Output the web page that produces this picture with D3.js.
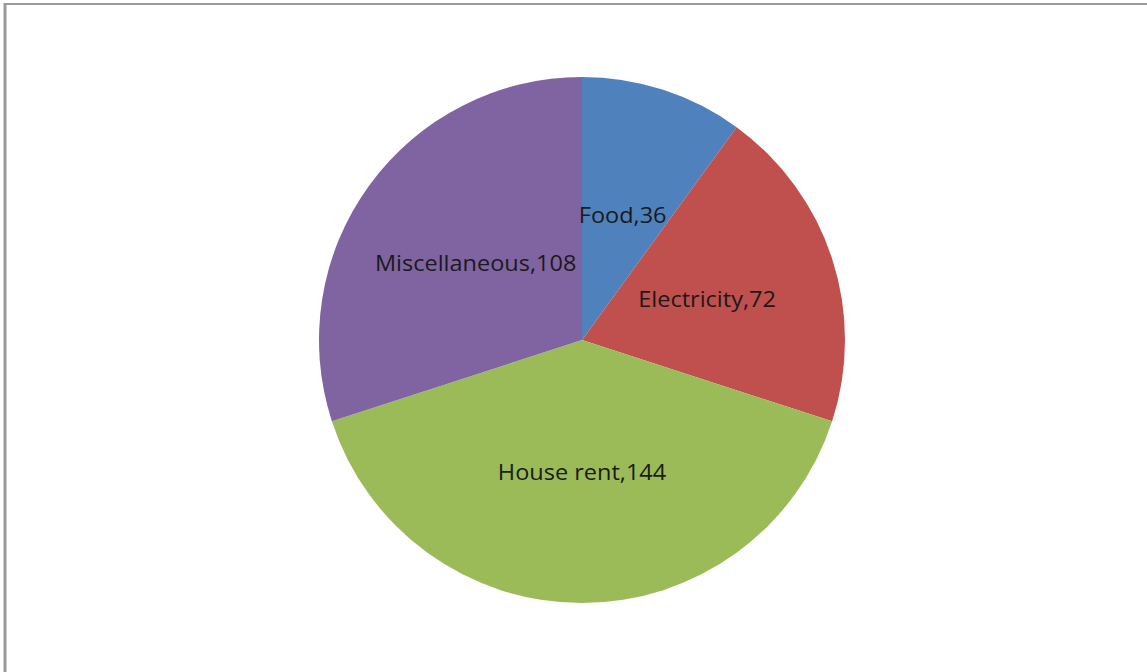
<!DOCTYPE html>
<html>
<head>
<meta charset="utf-8">
<script src="https://cdn.jsdelivr.net/npm/d3@7"></script>
<style>
  html, body { margin: 0; padding: 0; background: #fff; }
  svg { display: block; }
</style>
</head>
<body>
<svg id="chart" width="1147" height="672"></svg>
<script>
// Monthly expense breakdown
const categories = ["Food", "Electricity", "House rent", "Miscellaneous"];
const values = [36, 72, 144, 108];
const colors = ["#4F81BD", "#C0504D", "#9BBB59", "#8064A2"];

const svg = d3.select("#chart");
const W = 1147, H = 672;

// chart area frame (top and left edges visible)
svg.append("line").attr("x1", 4).attr("x2", W).attr("y1", 4).attr("y2", 4)
  .attr("stroke", "#9a9a9a").attr("stroke-width", 2);
svg.append("line").attr("x1", 5).attr("x2", 5).attr("y1", 3).attr("y2", H)
  .attr("stroke", "#9a9a9a").attr("stroke-width", 3);

const cx = 582, cy = 340, r = 263;
const data = categories.map((c, i) => ({ name: c, value: values[i], color: colors[i] }));

const pie = d3.pie().value(d => d.value).sort(null);
const arc = d3.arc().innerRadius(0).outerRadius(r);

const g = svg.append("g").attr("transform", `translate(${cx},${cy})`);
const arcs = pie(data);

g.selectAll("path.slice").data(arcs).join("path")
  .attr("class", "slice")
  .attr("d", arc)
  .attr("fill", d => d.data.color);

// data labels at slice centroids, slightly widened glyphs
g.selectAll("text.lbl").data(arcs).join("text")
  .attr("class", "lbl")
  .attr("transform", d => {
    const [x, y] = arc.centroid(d);
    return `translate(${x},${y}) scale(1.12,1)`;
  })
  .attr("text-anchor", "middle")
  .attr("dominant-baseline", "central")
  .attr("font-family", "'Open Sans', sans-serif")
  .attr("font-size", 21)
  .attr("fill", "#1a1a1a")
  .text(d => `${d.data.name},${d.data.value}`);
</script>
</body>
</html>
